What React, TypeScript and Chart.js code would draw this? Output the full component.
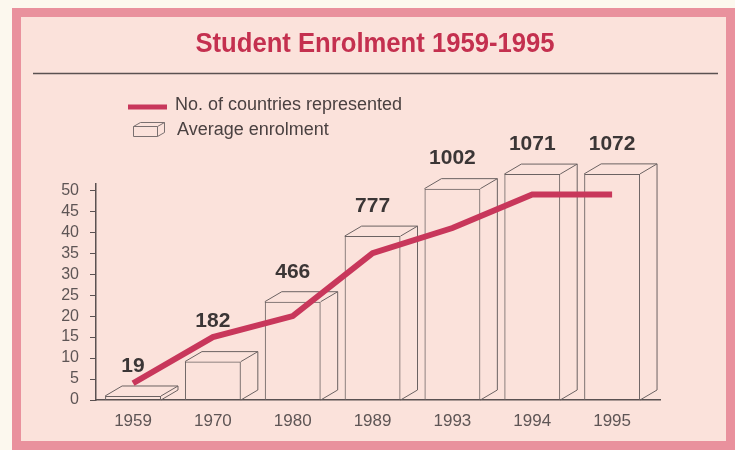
import React, { useEffect, useRef } from "react";
import { Chart, registerables } from "chart.js";

Chart.register(...registerables);

const years = ["1959", "1970", "1980", "1989", "1993", "1994", "1995"];
const enrolment = [19, 182, 466, 777, 1002, 1071, 1072];
const countries = [4, 15, 20, 35, 41, 49, 49];
const countryTicks = [0, 5, 10, 15, 20, 25, 30, 35, 40, 45, 50];

const SANS = '"Liberation Sans", Arial, Helvetica, sans-serif';
const INK = "#5a5151";
const TICK = "#5e5555";
const CRIMSON = "#c8375b";
const DX = 17;
const DY = 10;

const decorPlugin = {
  id: "decor",
  afterDraw(chart: any) {
    const ctx = chart.ctx;
    ctx.save();
    // title (slightly condensed)
    ctx.save();
    ctx.fillStyle = "#c4304f";
    ctx.font = `bold 27px ${SANS}`;
    ctx.textAlign = "center";
    ctx.textBaseline = "middle";
    ctx.translate(375, 45);
    ctx.scale(0.95, 1);
    ctx.fillText("Student Enrolment 1959-1995", 0, 0);
    ctx.restore();
    // rule
    ctx.strokeStyle = INK;
    ctx.lineWidth = 1.5;
    ctx.beginPath();
    ctx.moveTo(33, 73.5);
    ctx.lineTo(718, 73.5);
    ctx.stroke();
    // legend
    ctx.strokeStyle = CRIMSON;
    ctx.lineWidth = 5;
    ctx.beginPath();
    ctx.moveTo(128, 107);
    ctx.lineTo(167, 107);
    ctx.stroke();
    ctx.strokeStyle = "#7a7070";
    ctx.lineWidth = 1;
    ctx.beginPath();
    ctx.rect(133.5, 126.5, 24, 10);
    ctx.moveTo(133.5, 126.5);
    ctx.lineTo(140.5, 122.5);
    ctx.lineTo(164.5, 122.5);
    ctx.lineTo(157.5, 126.5);
    ctx.moveTo(164.5, 122.5);
    ctx.lineTo(164.5, 132.5);
    ctx.lineTo(157.5, 136.5);
    ctx.stroke();
    ctx.fillStyle = "#4a4141";
    ctx.font = `18px ${SANS}`;
    ctx.textAlign = "left";
    ctx.textBaseline = "middle";
    ctx.fillText("No. of countries represented", 175, 105);
    ctx.fillText("Average enrolment", 177, 130);
    ctx.restore();
  },
};

function lineYAt(points: any[], x: number): number | null {
  for (let k = 0; k < points.length - 1; k++) {
    const a = points[k];
    const b = points[k + 1];
    if (x >= a.x && x <= b.x) {
      const t = (x - a.x) / (b.x - a.x || 1);
      return a.y + t * (b.y - a.y);
    }
  }
  return null;
}

const threeDPlugin = {
  id: "threeD",
  afterDatasetDraw(chart: any, args: any) {
    if (args.index !== 0) return;
    const ctx = chart.ctx;
    const linePts = chart.getDatasetMeta(1).data || [];
    ctx.save();
    ctx.strokeStyle = "#6b6262";
    ctx.lineWidth = 1;
    ctx.fillStyle = "#3b3636";
    ctx.font = `bold 21px ${SANS}`;
    ctx.textAlign = "center";
    ctx.textBaseline = "middle";
    args.meta.data.forEach((bar: any, i: number) => {
      const { x, y, base, width } = bar.getProps(["x", "y", "base", "width"], true);
      const l = x - width / 2;
      const r = x + width / 2;
      ctx.beginPath();
      ctx.moveTo(l, y);
      ctx.lineTo(l + DX, y - DY);
      ctx.lineTo(r + DX, y - DY);
      ctx.lineTo(r, y);
      ctx.moveTo(r + DX, y - DY);
      ctx.lineTo(r + DX, base - DY);
      ctx.lineTo(r, base);
      ctx.stroke();
      let ly = y - 30;
      const lineY = lineYAt(linePts, x);
      if (lineY !== null && Math.abs(ly - lineY) < 16) ly = lineY - 16;
      ctx.fillText(String(enrolment[i]), x, ly);
    });
    ctx.restore();
  },
};

export default function App() {
  const ref = useRef<HTMLCanvasElement>(null);

  useEffect(() => {
    if (!ref.current) return;
    const chart = new Chart(ref.current, {
      type: "bar",
      data: {
        datasets: [
          {
            type: "bar",
            label: "Average enrolment",
            data: enrolment.map((v, i) => ({ x: i, y: v })),
            yAxisID: "yE",
            backgroundColor: "rgba(0,0,0,0)",
            borderColor: "#6b6262",
            borderWidth: 1,
            categoryPercentage: 1,
            barPercentage: 0.7,
            order: 2,
            clip: false as any,
          } as any,
          {
            type: "line",
            label: "No. of countries represented",
            data: countries.map((v, i) => ({ x: i, y: v })),
            yAxisID: "y",
            borderColor: CRIMSON,
            borderWidth: 6,
            pointRadius: 0,
            tension: 0,
            order: 1,
            clip: false as any,
          } as any,
        ],
      },
      options: {
        animation: false,
        responsive: false,
        events: [],
        layout: { padding: { left: 56, right: 75, top: 184, bottom: 5 } },
        plugins: { legend: { display: false }, title: { display: false }, tooltip: { enabled: false } },
        scales: {
          x: {
            type: "linear",
            offset: false,
            min: -0.464,
            max: 6.6,
            grid: { display: false },
            border: { display: true, color: INK, width: 1.5 },
            afterBuildTicks: (axis: any) => {
              axis.ticks = years.map((_, i) => ({ value: i }));
            },
            afterFit: (axis: any) => {
              axis.height = 45;
            },
            ticks: {
              autoSkip: false,
              maxRotation: 0,
              padding: 3,
              color: TICK,
              font: { family: SANS, size: 17 },
              callback: (v: any) => years[v as number] ?? "",
            },
          },
          y: {
            type: "linear",
            position: "left",
            min: 0,
            max: 51.5,
            grid: { display: true, drawOnChartArea: false, drawTicks: true, tickLength: 6, color: INK },
            border: { display: true, color: INK, width: 1.5 },
            afterBuildTicks: (axis: any) => {
              axis.ticks = countryTicks.map((v) => ({ value: v }));
            },
            afterFit: (axis: any) => {
              axis.width = 40;
            },
            ticks: {
              autoSkip: false,
              padding: 11,
              color: TICK,
              font: { family: SANS, size: 16 },
            },
          },
          yE: {
            type: "linear",
            display: false,
            min: 0,
            max: 1024,
          },
        },
      },
      plugins: [threeDPlugin, decorPlugin],
    } as any);
    return () => chart.destroy();
  }, []);

  return (
    <div style={{ position: "fixed", left: 0, top: 0, width: 735, height: 450, background: "#fcf8ee" }}>
      <div
        style={{
          position: "absolute",
          left: 12,
          top: 8,
          width: 723,
          height: 442,
          boxSizing: "border-box",
          border: "9px solid #e9919d",
          background: "#fbe2db",
        }}
      />
      <canvas ref={ref} width={735} height={450} style={{ position: "absolute", left: 0, top: 0 }} />
    </div>
  );
}
